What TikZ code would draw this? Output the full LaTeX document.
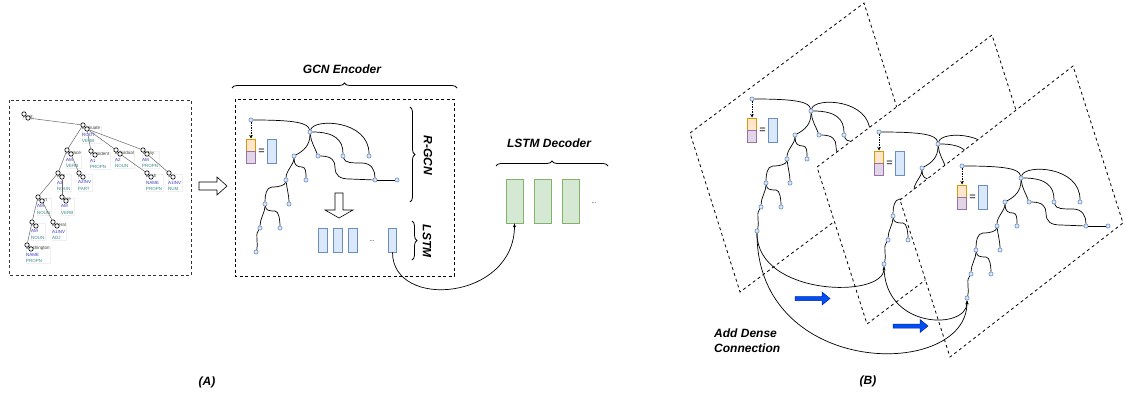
\documentclass[tikz,border=0pt]{standalone}
\usepackage{fontspec}
\setmainfont{Liberation Sans}
\usetikzlibrary{arrows.meta,decorations.pathreplacing}
\definecolor{ofill}{HTML}{FFE6CC}\definecolor{odraw}{HTML}{D79B00}
\definecolor{pfill}{HTML}{E1D5E7}\definecolor{pdraw}{HTML}{9673A6}
\definecolor{bfill}{HTML}{DAE8FC}\definecolor{bdraw}{HTML}{6C8EBF}
\definecolor{gfill}{HTML}{D5E8D4}\definecolor{gdraw}{HTML}{82B366}
\definecolor{arfill}{HTML}{0050EF}\definecolor{ardraw}{HTML}{001DBC}
\definecolor{rolec}{HTML}{3A3AC8}\definecolor{posc}{HTML}{3A8A8A}
\tikzset{
 gn/.style={circle,minimum size=4.2pt,inner sep=0pt,fill=bfill,draw=bdraw,line width=0.6pt},
 ge/.style={line width=0.7pt},
 vo/.style={fill=ofill,draw=odraw,line width=0.7pt},
 vp/.style={fill=pfill,draw=pdraw,line width=0.7pt},
 vb/.style={fill=bfill,draw=bdraw,line width=0.7pt},
 eqn/.style={font=\fontsize{11}{11}\selectfont,inner sep=0pt},
 dasharr/.style={dash pattern=on 1.5pt off 1pt,line width=0.5pt,-{Stealth[length=3.5pt,width=3.5pt]}},
 lstmbox/.style={rectangle,minimum width=8.5pt,minimum height=24pt,inner sep=0pt,fill=bfill,draw=bdraw,line width=0.7pt},
 decbox/.style={rectangle,minimum width=17pt,minimum height=44pt,inner sep=0pt,fill=gfill,draw=gdraw,line width=0.8pt},
 pgram/.style={dash pattern=on 3pt off 3pt,fill=white,line width=0.8pt},
 gbox/.style={dash pattern=on 3pt off 2.5pt,line width=0.8pt},
 abox/.style={dash pattern=on 3pt off 2.5pt,line width=1pt,draw=black!80},
 brc/.style={decorate,decoration={brace,amplitude=5pt},line width=0.8pt},
 ttl/.style={font=\fontsize{12}{15}\selectfont\bfseries\itshape,inner sep=0pt},
 hollow/.style={fill=white,draw=black,line width=0.6pt},
 blk/.style={fill=arfill,draw=ardraw,line width=0.5pt},
 dense/.style={line width=0.7pt,-{Stealth[length=4pt,width=3pt]}},
 amrc/.style={circle,minimum size=4.4pt,inner sep=0pt,draw=black,fill=white,line width=0.6pt},
 amrlab/.style={anchor=north west,align=left,inner sep=0.5pt,font=\fontsize{4.5}{6.8}\selectfont,text=black!75,draw=black!6,line width=0.25pt},
 amre/.style={draw=black!60,line width=0.5pt},
 dotlbl/.style={font=\fontsize{6}{6}\selectfont,inner sep=0pt}
}
\newcommand\amrn[6]{%
 \node[amrlab] (#1l) at ({#2-1.5},{#3+0.5}) {#4\\\textcolor{rolec}{#5}\\\textcolor{posc}{#6}};
 \node[amrc] (#1) at (#2,#3) {};
 \node[amrc] (#1b) at ({#2+4},{#3+4}) {};}
\newcommand\gtree[3]{%
\begin{scope}[shift={(#1,#2)}]
 \node[gn] (#3n0) at (251,120) {};
 \node[gn] (#3n1) at (310,132) {};
 \node[gn] (#3n2) at (294,156) {};
 \node[gn] (#3n3) at (318,156) {};
 \node[gn] (#3n4) at (343,156) {};
 \node[gn] (#3n5) at (369,156) {};
 \node[gn] (#3n6) at (286,180) {};
 \node[gn] (#3n7) at (306,180) {};
 \node[gn] (#3n8) at (375,180) {};
 \node[gn] (#3n9) at (397,180) {};
 \node[gn] (#3n10) at (265,204) {};
 \node[gn] (#3n11) at (289,204) {};
 \node[gn] (#3n12) at (260,228) {};
 \node[gn] (#3n13) at (280,228) {};
 \node[gn] (#3n14) at (256,252) {};
 \draw[ge] (#3n0) .. controls +(45,0) and +(-2,-9) .. (#3n1);
 \draw[ge] (#3n1) .. controls +(4,-14) and +(0,-36) .. (#3n5);
 \draw[ge] (#3n1) .. controls +(25,0) and +(0,-16) .. (#3n4);
 \draw[ge] (#3n1) .. controls +(1,10) and +(-3,-8) .. (#3n3);
 \draw[ge] (#3n1) .. controls +(0,14) and +(9,-5) .. (#3n2);
 \draw[ge] (#3n3) .. controls +(14,0) and +(0,-6) .. (335,167) .. controls +(0,9) and +(-10,0) .. (350,179) -- (#3n8);
 \draw[ge] (#3n8) -- (#3n9);
 \draw[ge] (#3n4) .. controls +(2,7) and +(-10,0) .. (362,163) .. controls +(10,0) and +(0,-9) .. (#3n8);
 \draw[ge] (#3n2) .. controls +(0,8) and +(0,-9) .. (#3n6);
 \draw[ge] (#3n2) .. controls +(0,9) and +(-5,0) .. (302,167) .. controls +(4,0) and +(0,-7) .. (#3n7);
 \draw[ge] (#3n6) .. controls +(-1,5) and +(8,0) .. (272,187) .. controls +(-6,0) and +(0,-8) .. (#3n10);
 \draw[ge] (#3n6) .. controls +(1,9) and +(0,-8) .. (#3n11);
 \draw[ge] (#3n10) .. controls +(0,8) and +(0,-9) .. (#3n12);
 \draw[ge] (#3n10) .. controls +(1,6) and +(-7,0) .. (275,211) .. controls +(4,0) and +(0,-7) .. (#3n13);
 \draw[ge] (#3n12) .. controls +(-4,6) and +(0,-4) .. (257,240) .. controls +(0,4) and +(2,-6) .. (#3n14);
 \draw[vo] (246,139) rectangle (255,151);
 \draw[vp] (246,151) rectangle (255,163);
 \node[eqn] (#3eq) at (261.5,151.5) {=};
 \draw[vb] (267,139) rectangle (276,163);
 \draw[dasharr] (#3n0) -- (251,138.5);
\end{scope}}
\begin{document}
\begin{tikzpicture}[x=1pt,y=-1pt]
\useasboundingbox (0,0) rectangle (1123,397);
% ---------- (A) ----------
\draw[abox] (9,100) rectangle (191,275);
\node[amrlab] (wrl) at (22.5,114.5) {Root};
\node[amrc] (wr) at (24,114) {};
\node[amrc] (wrb) at (28,118) {};
\amrn{wa}{83}{125}{insinuate}{ROOT}{VERB}
\amrn{wb}{67}{150}{replace}{AM}{VERB}
\amrn{wc}{91}{151}{President}{A1}{PROPN}
\amrn{wd}{116}{150}{individual}{A2}{NOUN}
\amrn{we}{143}{150}{Today}{AM}{PROPN}
\amrn{wf}{58}{173}{with}{A2}{NOUN}
\amrn{wg}{79}{173}{to}{A2INV}{PART}
\amrn{wh}{147}{173}{Bush}{NAME}{PROPN}
\amrn{wi}{169}{173}{1}{A1INV}{NUM}
\amrn{wj}{38}{197}{court}{AM}{NOUN}
\amrn{wk}{62}{197}{were}{AM}{VERB}
\amrn{wl}{32}{222}{ts}{AM}{NOUN}
\amrn{wm}{53}{222}{federal}{A1INV}{ADJ}
\amrn{wn}{27}{245}{Washington}{NAME}{PROPN}
\draw[amre] (wrb) -- (wa);
\draw[amre] (wa) -- (wb);
\draw[amre] (wab) -- (wc);
\draw[amre] (wab) -- (wd);
\draw[amre] (wab) -- (we);
\draw[amre] (wb) -- (wf);
\draw[amre] (wbb) -- (wg);
\draw[amre] (wdb) -- (wh);
\draw[amre] (web) -- (wi);
\draw[amre] (wf) -- (wj);
\draw[amre] (wfb) -- (wk);
\draw[amre] (wj) -- (wl);
\draw[amre] (wjb) -- (wm);
\draw[amre] (wl) -- (wn);
\node[ttl] (tA) at (207,382) {(A)};
\draw[hollow] (199,182) -- (217,182) -- (217,177) -- (227,186) -- (217,195) -- (217,190) -- (199,190) -- cycle;
% ---------- GCN encoder ----------
\node[ttl] (tgcn) at (342,69) {GCN Encoder};
\draw[brc] (232,88) -- (457,88);
\draw[gbox] (235,99) rectangle (454,276);
\gtree{0}{0}{g}
\draw[hollow] (335,193) -- (343,193) -- (343,210) -- (353,210) -- (339,218) -- (325,210) -- (335,210) -- cycle;
\node[lstmbox] (e1) at (323,240) {};
\node[lstmbox] (e2) at (338,240) {};
\node[lstmbox] (e3) at (353,240) {};
\node[dotlbl] (edots) at (372,241) {...};
\node[lstmbox] (e4) at (392.5,240) {};
\draw[brc] (410,107) -- (410,202);
\node[ttl,rotate=-90] (trgcn) at (428,155) {R-GCN};
\draw[brc] (412,221) -- (412,260);
\node[ttl,rotate=-90] (tlstm) at (427,241) {LSTM};
% ---------- decoder ----------
\node[ttl] (tdec) at (549,143) {LSTM Decoder};
\draw[brc] (496,166) -- (608,166);
\node[decbox] (d1) at (514.5,201) {};
\node[decbox] (d2) at (542.5,201) {};
\node[decbox] (d3) at (570.5,201) {};
\node[dotlbl] (ddots) at (594,203) {...};
\draw[dense] (e4.south) .. controls +(0,58) and +(0,77) .. (d1.south);
% ---------- (B) ----------
\draw[pgram] (690,133) -- (864,3) -- (914,162) -- (740,292) -- cycle;
\gtree{501}{-21}{ta}
\draw[pgram] (817,167) -- (992,35) -- (1042,192) -- (867,324) -- cycle;
\gtree{628}{12}{tb}
\draw[pgram] (900,200) -- (1073,66) -- (1123,223) -- (950,357) -- cycle;
\gtree{711}{46}{tc}
\draw[dense] (tan14) .. controls +(0,65) and +(0,35) .. (tbn14);
\draw[dense] (tan14) .. controls +(0,148) and +(0,82) .. (tcn14);
\draw[dense] (tbn14) .. controls +(0,66) and +(0,32) .. (tcn14);
\draw[blk] (795,296.5) -- (822,296.5) -- (822,292) -- (830,298.5) -- (822,305) -- (822,300.5) -- (795,300.5) -- cycle;
\draw[blk] (893,324) -- (920,324) -- (920,319.5) -- (928,326) -- (920,332.5) -- (920,328) -- (893,328) -- cycle;
\node[ttl,anchor=north west,align=left] (tdense) at (714,329) {Add Dense\\Connection};
\node[ttl] (tB) at (868,381) {(B)};
\end{tikzpicture}
\end{document}
